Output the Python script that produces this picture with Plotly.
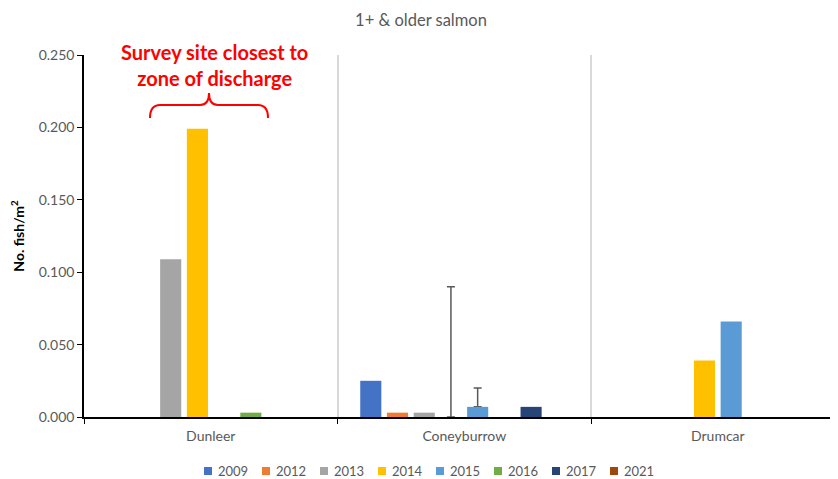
import plotly.graph_objects as go

sites = ["Dunleer", "Coneyburrow", "Drumcar"]
years = ["2009", "2012", "2013", "2014", "2015", "2016", "2017", "2021"]
values = {
    "2009": [None, 0.025, None],
    "2012": [None, 0.003, None],
    "2013": [0.109, 0.003, None],
    "2014": [0.199, 0.0, 0.039],
    "2015": [None, 0.007, 0.066],
    "2016": [0.003, None, None],
    "2017": [None, 0.007, None],
    "2021": [None, None, None],
}
errors_plus = {
    "2014": [None, 0.090, None],
    "2015": [None, 0.013, None],
}
colors = {
    "2009": "#4472C4", "2012": "#ED7D31", "2013": "#A5A5A5", "2014": "#FFC000",
    "2015": "#5B9BD5", "2016": "#70AD47", "2017": "#264478", "2021": "#9E480E",
}
y_ticks = [0, 0.05, 0.10, 0.15, 0.20, 0.25]

FONT = "Lato, Open Sans, sans-serif"
OFF = 8  # page body margin
W, H = 838 - OFF, 479 - OFF
ML, MR, MT, MB = 84 - OFF, 0, 55 - OFF, 62
XR = [-0.5, 2.474]
YR = [0, 0.25]

fig = go.Figure()
xs = list(range(len(sites)))
for yr in years:
    if yr in errors_plus:
        # error-bar carrier drawn beneath the real bar so the lower cap is hidden
        err = errors_plus[yr]
        ey = [v if e is not None else None for v, e in zip(values[yr], err)]
        fig.add_trace(go.Bar(x=xs, y=ey, name=yr, marker_color="rgba(0,0,0,0)",
                             marker_line_width=0, showlegend=False, offsetgroup=yr,
                             hoverinfo="skip",
                             error_y=dict(type="data", array=[e if e is not None else 0 for e in err],
                                          arrayminus=[0] * 3, symmetric=False,
                                          color="#595959", thickness=1.5, width=4)))
    fig.add_trace(go.Bar(x=xs, y=values[yr], name=yr, marker_color=colors[yr],
                         marker_line_width=0, showlegend=False, offsetgroup=yr))

pw = W - ML - MR
ph = H - MT - MB


def px2x(p):
    p -= OFF
    return XR[0] + (p - ML) / pw * (XR[1] - XR[0])


def px2y(p):
    p -= OFF
    return YR[0] + (MT + ph - p) / ph * (YR[1] - YR[0])


def pxpx(p):
    p -= OFF
    return (p - ML) / pw


def pxpy(p):
    p -= OFF
    return (MT + ph - p) / ph


# curly brace
pts_path = (
    f"M {px2x(150)},{px2y(118)} "
    f"Q {px2x(150)},{px2y(105)} {px2x(160)},{px2y(105)} "
    f"L {px2x(200)},{px2y(105)} "
    f"Q {px2x(209)},{px2y(105)} {px2x(209)},{px2y(93)} "
    f"Q {px2x(209)},{px2y(105)} {px2x(218)},{px2y(105)} "
    f"L {px2x(258)},{px2y(105)} "
    f"Q {px2x(268)},{px2y(105)} {px2x(268)},{px2y(118)}"
)
fig.add_shape(type="path", path=pts_path, xref="x", yref="y",
              line=dict(color="#FF0000", width=2))

fig.add_annotation(x=px2x(214), y=px2y(65), xref="x", yref="y",
                   text="<b>Survey site closest to<br>zone of discharge</b>",
                   showarrow=False, font=dict(family=FONT, size=20, color="#FF0000"),
                   align="center")

# legend (manual, to match compact spacing)
for i, yr in enumerate(years):
    x0 = 204 + i * 58
    fig.add_shape(type="rect", xref="paper", yref="paper",
                  x0=pxpx(x0), x1=pxpx(x0 + 8), y0=pxpy(475), y1=pxpy(467),
                  fillcolor=colors[yr], line_width=0)
    fig.add_annotation(x=pxpx(x0 + 12), y=pxpy(471), xref="paper", yref="paper",
                       text=yr, showarrow=False, xanchor="left", yanchor="middle",
                       font=dict(family=FONT, size=13, color="#595959"))

fig.update_layout(
    width=W, height=H,
    margin=dict(l=ML, r=MR, t=MT, b=MB, autoexpand=False),
    paper_bgcolor="white", plot_bgcolor="white",
    barmode="group", bargap=0.157, bargroupgap=0.21,
    showlegend=False,
    title=dict(text="1+ & older salmon", x=(421 - OFF) / W, xanchor="center",
               y=1 - (20 - OFF) / H, yanchor="middle",
               font=dict(family=FONT, size=16.5, color="#595959")),
    font=dict(family=FONT, color="#595959"),
    xaxis=dict(range=XR, tickmode="array", tickvals=xs, ticktext=sites, ticks="",
               showgrid=False, zeroline=False, showline=True, linecolor="black", linewidth=1.5,
               automargin=False, ticklabelstandoff=5,
               tickfont=dict(family=FONT, size=14, color="#595959"),
               minor=dict(tick0=-0.5, dtick=1, ticks="outside", ticklen=5, tickcolor="black",
                          showgrid=True, gridcolor="#D9D9D9", gridwidth=1.5)),
    yaxis=dict(range=YR, tickmode="array", tickvals=y_ticks,
               ticktext=[f"{v:.3f}" for v in y_ticks], ticks="outside", ticklen=5,
               tickcolor="black", showgrid=False, zeroline=False, showline=True,
               linecolor="black", linewidth=1.5, automargin=False,
               tickfont=dict(family=FONT, size=14, color="#595959"),
               title=dict(text="<b>No. fish/m<sup>2</sup></b>", standoff=13,
                          font=dict(family=FONT, size=14, color="black"))),
)

fig.write_html("out.html")
